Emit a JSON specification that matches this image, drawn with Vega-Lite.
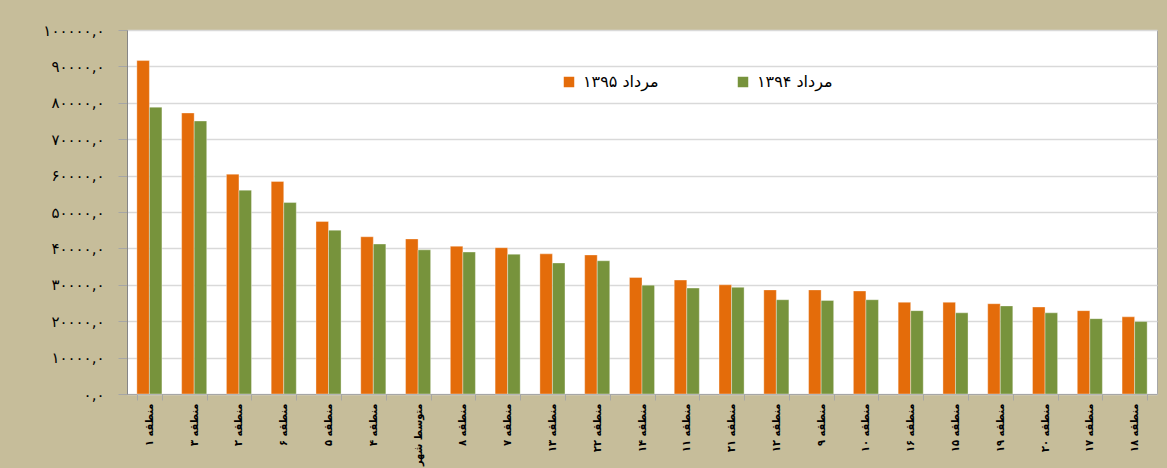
{
  "$schema": "https://vega.github.io/schema/vega-lite/v6.json",
  "autosize": {"type": "none"},
  "width": 1030,
  "height": 364,
  "padding": {"left": 127, "top": 30, "right": 10, "bottom": 74},
  "background": "#c6bd9a",
  "config": {
    "view": {"fill": "#ffffff", "stroke": "#a6a6a6", "strokeWidth": 1},
    "font": "DejaVu Sans"
  },
  "data": {
    "values": [
      {"region": "منطقه ۱", "series": "مرداد ۱۳۹۵", "value": 91600},
      {"region": "منطقه ۱", "series": "مرداد ۱۳۹۴", "value": 78800},
      {"region": "منطقه ۳", "series": "مرداد ۱۳۹۵", "value": 77200},
      {"region": "منطقه ۳", "series": "مرداد ۱۳۹۴", "value": 75000},
      {"region": "منطقه ۲", "series": "مرداد ۱۳۹۵", "value": 60400},
      {"region": "منطقه ۲", "series": "مرداد ۱۳۹۴", "value": 56000},
      {"region": "منطقه ۶", "series": "مرداد ۱۳۹۵", "value": 58400},
      {"region": "منطقه ۶", "series": "مرداد ۱۳۹۴", "value": 52600},
      {"region": "منطقه ۵", "series": "مرداد ۱۳۹۵", "value": 47400},
      {"region": "منطقه ۵", "series": "مرداد ۱۳۹۴", "value": 45000},
      {"region": "منطقه ۴", "series": "مرداد ۱۳۹۵", "value": 43200},
      {"region": "منطقه ۴", "series": "مرداد ۱۳۹۴", "value": 41200},
      {"region": "متوسط شهر", "series": "مرداد ۱۳۹۵", "value": 42600},
      {"region": "متوسط شهر", "series": "مرداد ۱۳۹۴", "value": 39600},
      {"region": "منطقه ۸", "series": "مرداد ۱۳۹۵", "value": 40600},
      {"region": "منطقه ۸", "series": "مرداد ۱۳۹۴", "value": 39000},
      {"region": "منطقه ۷", "series": "مرداد ۱۳۹۵", "value": 40200},
      {"region": "منطقه ۷", "series": "مرداد ۱۳۹۴", "value": 38400},
      {"region": "منطقه ۱۳", "series": "مرداد ۱۳۹۵", "value": 38500},
      {"region": "منطقه ۱۳", "series": "مرداد ۱۳۹۴", "value": 36000},
      {"region": "منطقه ۲۲", "series": "مرداد ۱۳۹۵", "value": 38200},
      {"region": "منطقه ۲۲", "series": "مرداد ۱۳۹۴", "value": 36600},
      {"region": "منطقه ۱۴", "series": "مرداد ۱۳۹۵", "value": 32000},
      {"region": "منطقه ۱۴", "series": "مرداد ۱۳۹۴", "value": 29900},
      {"region": "منطقه ۱۱", "series": "مرداد ۱۳۹۵", "value": 31300},
      {"region": "منطقه ۱۱", "series": "مرداد ۱۳۹۴", "value": 29100},
      {"region": "منطقه ۲۱", "series": "مرداد ۱۳۹۵", "value": 30000},
      {"region": "منطقه ۲۱", "series": "مرداد ۱۳۹۴", "value": 29300},
      {"region": "منطقه ۱۲", "series": "مرداد ۱۳۹۵", "value": 28600},
      {"region": "منطقه ۱۲", "series": "مرداد ۱۳۹۴", "value": 25900},
      {"region": "منطقه ۹", "series": "مرداد ۱۳۹۵", "value": 28600},
      {"region": "منطقه ۹", "series": "مرداد ۱۳۹۴", "value": 25700},
      {"region": "منطقه ۱۰", "series": "مرداد ۱۳۹۵", "value": 28300},
      {"region": "منطقه ۱۰", "series": "مرداد ۱۳۹۴", "value": 25900},
      {"region": "منطقه ۱۶", "series": "مرداد ۱۳۹۵", "value": 25200},
      {"region": "منطقه ۱۶", "series": "مرداد ۱۳۹۴", "value": 22900},
      {"region": "منطقه ۱۵", "series": "مرداد ۱۳۹۵", "value": 25200},
      {"region": "منطقه ۱۵", "series": "مرداد ۱۳۹۴", "value": 22300},
      {"region": "منطقه ۱۹", "series": "مرداد ۱۳۹۵", "value": 24800},
      {"region": "منطقه ۱۹", "series": "مرداد ۱۳۹۴", "value": 24200},
      {"region": "منطقه ۲۰", "series": "مرداد ۱۳۹۵", "value": 23900},
      {"region": "منطقه ۲۰", "series": "مرداد ۱۳۹۴", "value": 22300},
      {"region": "منطقه ۱۷", "series": "مرداد ۱۳۹۵", "value": 22900},
      {"region": "منطقه ۱۷", "series": "مرداد ۱۳۹۴", "value": 20700},
      {"region": "منطقه ۱۸", "series": "مرداد ۱۳۹۵", "value": 21200},
      {"region": "منطقه ۱۸", "series": "مرداد ۱۳۹۴", "value": 19900}
    ]
  },
  "mark": {"type": "bar", "stroke": "#ffffff", "strokeOpacity": 0.35, "strokeWidth": 1},
  "encoding": {
    "x": {
      "field": "region",
      "type": "nominal",
      "sort": null,
      "scale": {"paddingInner": 0.44, "paddingOuter": 0.22},
      "axis": {
        "title": null,
        "labelAngle": -90,
        "labelAlign": "right",
        "labelBaseline": "middle",
        "labelFont": "DejaVu Sans Condensed",
        "labelFontSize": 11,
        "labelFontWeight": "bold",
        "labelColor": "#000000",
        "labelPadding": 3,
        "tickBand": "extent",
        "tickColor": "#a6a6a6",
        "tickSize": 6,
        "domainColor": "#a6a6a6",
        "labelLimit": 0
      }
    },
    "xOffset": {
      "field": "series",
      "type": "nominal",
      "sort": ["مرداد ۱۳۹۵", "مرداد ۱۳۹۴"]
    },
    "y": {
      "field": "value",
      "type": "quantitative",
      "scale": {"domain": [0, 100000], "nice": false},
      "axis": {
        "title": null,
        "values": [0, 10000, 20000, 30000, 40000, 50000, 60000, 70000, 80000, 90000, 100000],
        "labelExpr": "datum.value == 100000 ? '۱۰۰۰۰۰,۰' : datum.value == 0 ? '۰,۰' : substring('۰۱۲۳۴۵۶۷۸۹', datum.value / 10000, datum.value / 10000 + 1) + '۰۰۰۰,۰'",
        "labelFontSize": 15,
        "labelColor": "#000000",
        "labelPadding": 14,
        "tickSize": 9,
        "tickColor": "#a6a6a6",
        "domainColor": "#868686",
        "gridColor": "#d9d9d9",
        "gridWidth": 1.5
      }
    },
    "color": {
      "field": "series",
      "type": "nominal",
      "scale": {"domain": ["مرداد ۱۳۹۵", "مرداد ۱۳۹۴"], "range": ["#e46c0a", "#77933c"]},
      "legend": {
        "title": null,
        "orient": "none",
        "legendX": 434,
        "legendY": 44,
        "direction": "horizontal",
        "padding": 0,
        "symbolType": "square",
        "symbolSize": 110,
        "symbolStrokeWidth": 0,
        "labelFontSize": 16,
        "labelColor": "#000000",
        "labelOffset": 6,
        "columnPadding": 76
      }
    }
  }
}
